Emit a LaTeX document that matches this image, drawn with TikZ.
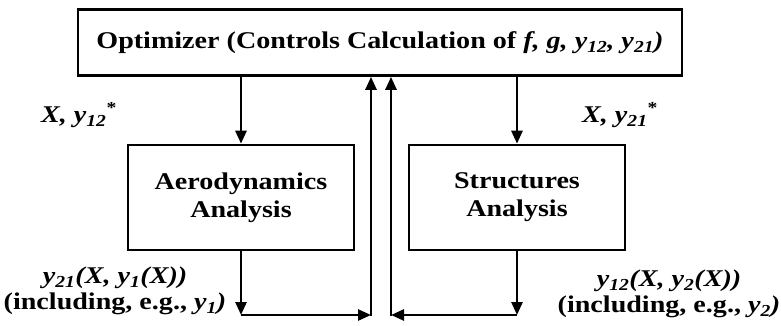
\documentclass[tikz,border=0pt]{standalone}
\usepackage{fontspec}
\setmainfont[FakeStretch=1.17]{Liberation Serif}
\usetikzlibrary{arrows.meta}
\newcommand{\sbi}[1]{\textsubscript{\textit{#1}}}
\begin{document}
\begin{tikzpicture}[x=1pt,y=-1pt, line width=2.6pt,
  box/.style={draw, rectangle, inner sep=0pt, align=center, font=\fontsize{24}{28}\selectfont\bfseries},
  lbl/.style={inner sep=0pt, align=center, font=\fontsize{24}{26}\selectfont\bfseries},
  arr/.style={-{Triangle[length=13pt,width=11pt]}}]
\useasboundingbox (0,0) rectangle (781,325);
\node[box, minimum width=604pt, minimum height=66pt] (opt) at (380,42.5)
  {Optimizer (Controls Calculation of \textit{f, g, y}\sbi{12}\textit{, y}\sbi{21}\textit{)}};
\node[box, minimum width=226pt, minimum height=105pt] (aero) at (241,197.5) {Aerodynamics\\Analysis};
\node[box, minimum width=216pt, minimum height=105pt] (str) at (517,197.5) {Structures\\Analysis};
\coordinate (base) at (381,315);
\coordinate (cl) at (371,315);
\coordinate (cr) at (391,315);
\coordinate (ca) at (aero.south |- base);
\coordinate (cs) at (str.south |- base);
\draw[arr] (opt.south -| aero.north) -- (aero.north);
\draw[arr] (opt.south -| str.north) -- (str.north);
\draw[arr] (aero.south) -- (ca);
\draw[arr] (ca) -- (cl);
\draw[arr, line cap=rect] (cl) -- (cl |- opt.south);
\draw[arr] (str.south) -- (cs);
\draw[arr] (cs) -- (cr);
\draw[arr, line cap=rect] (cr) -- (cr |- opt.south);
\node[lbl] (l1) at (79,115) {\textit{X, y}\sbi{12}\textsuperscript{*}};
\node[lbl] (l2) at (620,115) {\textit{X, y}\sbi{21}\textsuperscript{*}};
\node[lbl] (l3) at (115,291) {\textit{y}\sbi{21}\textit{(X, y}\sbi{1}\textit{(X))}\\(including, e.g., \textit{y}\sbi{1}\textit{)}};
\node[lbl] (l4) at (669,294) {\textit{y}\sbi{12}\textit{(X, y}\sbi{2}\textit{(X))}\\(including, e.g., \textit{y}\sbi{2}\textit{)}};
\end{tikzpicture}
\end{document}
